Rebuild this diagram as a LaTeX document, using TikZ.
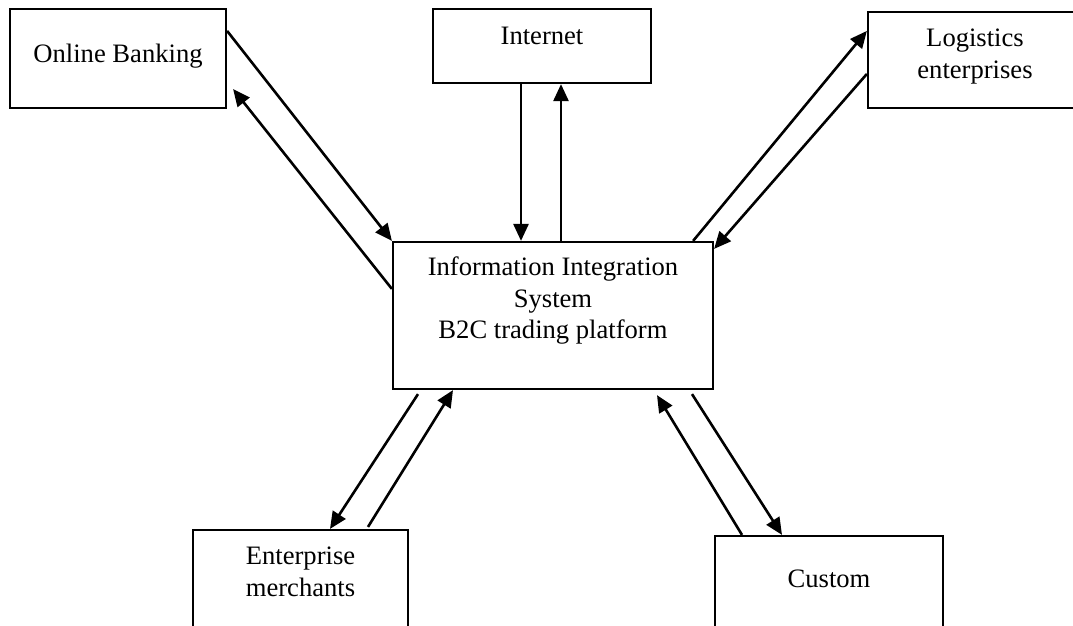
\documentclass[tikz,border=0pt]{standalone}
\usepackage{fontspec}
\setmainfont{Liberation Serif}
\usetikzlibrary{arrows.meta}

\begin{document}
\begin{tikzpicture}[
  x=1pt, y=-1pt,
  blk/.style  = {draw=black, line width=2.2pt, inner sep=0pt},
  txt/.style  = {anchor=north, align=center, inner sep=0pt,
                 font=\fontsize{26.6}{31.5}\selectfont},
  arr/.style  = {-{Triangle[length=17pt,width=15pt]}, line width=2.6pt}
]
\useasboundingbox (0,0) rectangle (1073,625);
\clip (0,0) rectangle (1073,625);

\node[blk, minimum width=216pt, minimum height=99pt] (bank) at (118,58.5) {};
\node[txt] (bankt) at ([yshift=-36pt]bank.north) {Online Banking};

\node[blk, minimum width=218pt, minimum height=74pt] (net) at (542,46) {};
\node[txt] (nett) at ([yshift=-19pt]net.north) {Internet};

\node[blk, minimum width=210pt, minimum height=96pt] (log) at (973,60) {};
\node[txt] (logt) at ([xshift=2pt,yshift=-18pt]log.north) {Logistics\\enterprises};

\node[blk, minimum width=320pt, minimum height=147pt] (sys) at (553,315.5) {};
\node[txt] (syst) at ([yshift=-16pt]sys.north) {Information Integration\\System\\B2C trading platform};

\node[blk, minimum width=215pt, minimum height=130pt] (merch) at (300.5,595) {};
\node[txt] (mercht) at ([yshift=-18pt]merch.north) {Enterprise\\merchants};

\node[blk, minimum width=228pt, minimum height=130pt] (cust) at (829,601) {};
\node[txt] (custt) at ([yshift=-35pt]cust.north) {Custom};

\draw[arr] ([yshift=-23pt]bank.north east) -- (sys.north west);
\draw[arr] ([yshift=-48pt]sys.north west) -- ([xshift=6pt,yshift=20pt]bank.south east);

\draw[arr] ([xshift=-21pt]net.south) -- ([xshift=-21pt]net.south |- sys.north);
\draw[arr] ([xshift=19pt]net.south |- sys.north) -- ([xshift=19pt]net.south);

\draw[arr] ([xshift=-21pt]sys.north east) -- ([yshift=-20pt]log.north west);
\draw[arr] ([yshift=-63pt]log.north west) -- ([yshift=-8pt]sys.north east);

\draw[arr] ([xshift=-135pt,yshift=-4pt]sys.south) -- ([xshift=29.5pt]merch.north);
\draw[arr] ([xshift=67.5pt,yshift=2pt]merch.north) -- ([xshift=-100pt]sys.south);

\draw[arr] ([xshift=-87pt]cust.north) -- ([xshift=104pt,yshift=-5pt]sys.south);
\draw[arr] ([xshift=139pt,yshift=-4pt]sys.south) -- ([xshift=-47pt]cust.north);
\end{tikzpicture}
\end{document}
